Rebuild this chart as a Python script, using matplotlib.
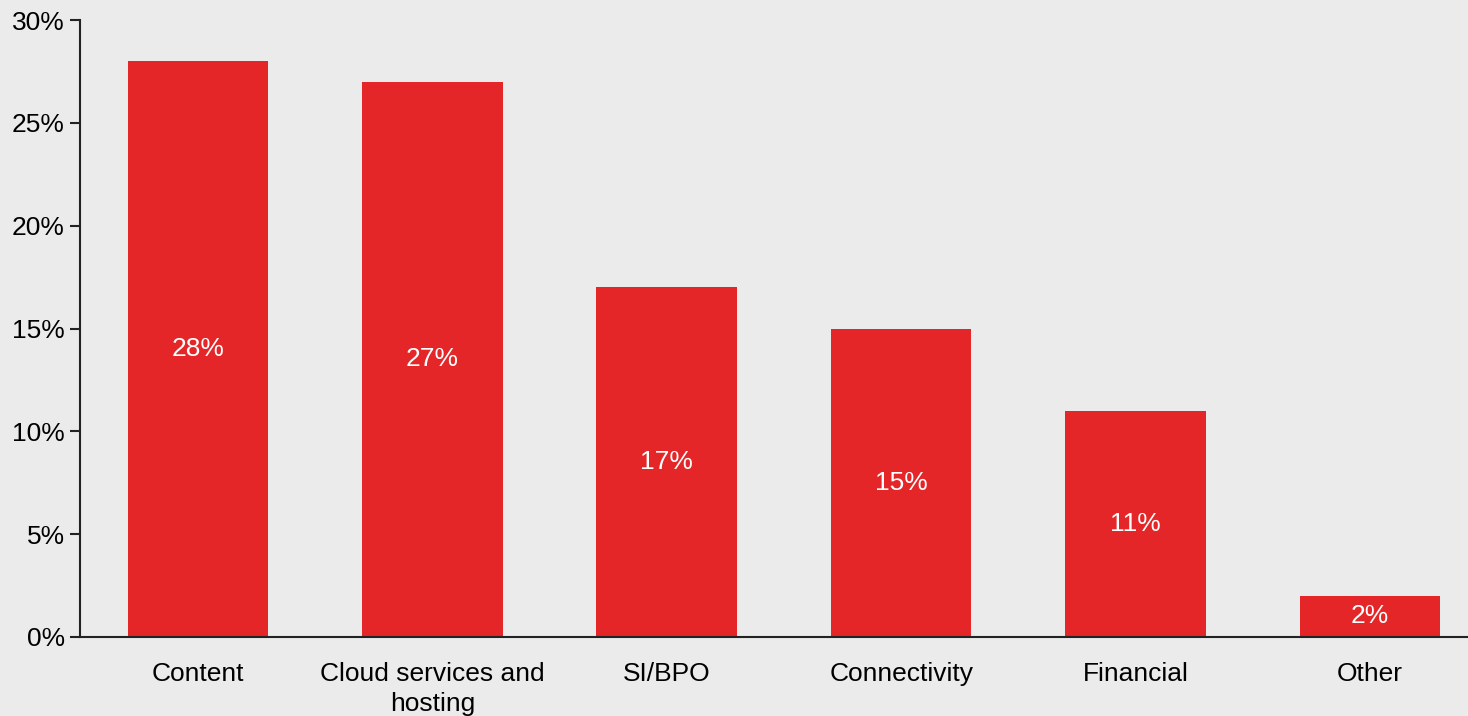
import numpy as np
import matplotlib.pyplot as plt

plt.rcParams['font.family'] = ['Liberation Sans', 'DejaVu Sans']

categories = ['Content', 'Cloud services and\nhosting', 'SI/BPO',
              'Connectivity', 'Financial', 'Other']
shares = [28, 27, 17, 15, 11, 2]
yticks = [0, 5, 10, 15, 20, 25, 30]

bg = '#EAEBEA'
red = '#E42628'

fig = plt.figure(figsize=(14.68, 7.16), dpi=100, facecolor=bg)
ax = fig.add_axes([80 / 1468, 79 / 716, 1 - 80 / 1468, 617 / 716])
ax.set_facecolor(bg)

x = np.arange(len(categories))
bars = ax.bar(x, shares, width=0.6, color=red, zorder=2)

# value labels centred inside each bar
for xi, v in zip(x, shares):
    ax.text(xi, v / 2, f'{v}%', ha='center', va='center',
            color='white', fontsize=19)

ax.set_xlim(-0.504, len(categories) - 1 + 0.419)
ax.set_ylim(0, 30)
ax.set_yticks(yticks)
ax.set_yticklabels([f'{t}%' for t in yticks])
ax.set_xticks(x)
ax.set_xticklabels(categories, linespacing=1.33)

ax.tick_params(axis='y', length=7, width=1.5, color='#222222',
               labelsize=19, pad=4)
ax.tick_params(axis='x', length=0, labelsize=19, pad=18)

for side in ['top', 'right']:
    ax.spines[side].set_visible(False)
for side in ['left', 'bottom']:
    ax.spines[side].set_color('#222222')
    ax.spines[side].set_linewidth(1.5)

fig.savefig('out.png', dpi=100, facecolor=bg)
